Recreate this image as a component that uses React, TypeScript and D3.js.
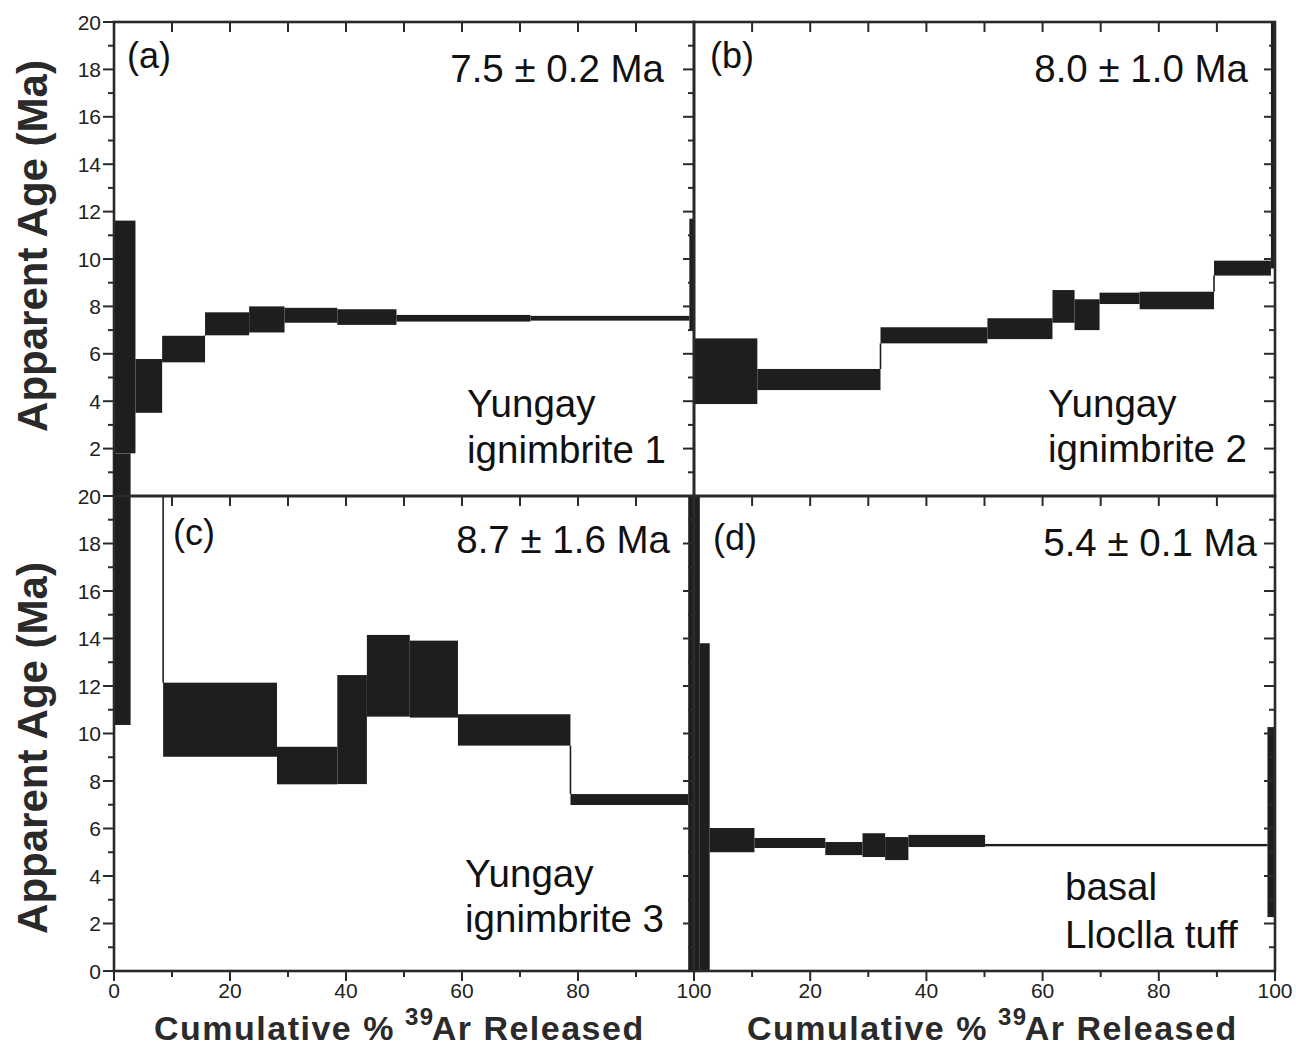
import React from 'react';
import * as d3 from 'd3';

// ---------- data ----------
const ageTickValues = d3.range(0, 21, 1);
const cumTickValues = d3.range(0, 101, 10);
const ageLabelsTop = [2, 4, 6, 8, 10, 12, 14, 16, 18, 20];
const ageLabelsBottom = [0, 2, 4, 6, 8, 10, 12, 14, 16, 18, 20];
const cumLabelsLeft = [0, 20, 40, 60, 80, 100];
const cumLabelsRight = [20, 40, 60, 80, 100];

// (a) Yungay ignimbrite 1
const cumA = [0, 3.7, 8.3, 15.7, 23.3, 29.4, 38.5, 48.7, 71.8, 99.2, 100];
const loA = [1.8, 3.51, 5.64, 6.78, 6.9, 7.31, 7.22, 7.36, 7.4, 7.0];
const hiA = [11.62, 5.78, 6.76, 7.75, 8.0, 7.94, 7.88, 7.64, 7.6, 11.7];

// (b) Yungay ignimbrite 2
const cumB = [0, 10.9, 32.1, 50.5, 61.7, 65.5, 69.8, 76.7, 89.5, 99.3, 100];
const loB = [3.88, 4.47, 6.44, 6.62, 7.31, 7.0, 8.1, 7.88, 9.3, 9.6];
const hiB = [6.65, 5.36, 7.12, 7.5, 8.69, 8.3, 8.58, 8.62, 9.93, 25];

// (c) Yungay ignimbrite 3
const cumC = [0, 2.86, 8.47, 28.1, 38.5, 43.6, 51.0, 59.3, 78.7, 99.0, 100];
const loC = [10.36, 25, 9.02, 7.86, 7.87, 10.71, 10.67, 9.49, 6.99, -2];
const hiC = [21.8, 30, 12.14, 9.44, 12.46, 14.15, 13.91, 10.81, 7.45, 20];

// (d) basal Lloclla tuff
const cumD = [0, 1.0, 2.7, 10.4, 22.6, 29.0, 32.9, 36.9, 50.1, 98.7, 100];
const loD = [-2, -2, 5.0, 5.18, 4.88, 4.8, 4.67, 5.22, 5.25, 2.27];
const hiD = [20, 13.8, 6.02, 5.6, 5.43, 5.8, 5.64, 5.73, 5.35, 10.27];

const panelTags = ['(a)', '(b)', '(c)', '(d)'];
const plateauAges = ['7.5 ± 0.2 Ma', '8.0 ± 1.0 Ma', '8.7 ± 1.6 Ma', '5.4 ± 0.1 Ma'];
const sampleLine1 = ['Yungay', 'Yungay', 'Yungay', 'basal'];
const sampleLine2 = ['ignimbrite 1', 'ignimbrite 2', 'ignimbrite 3', 'Lloclla tuff'];

// ---------- layout ----------
const FONT = "'Liberation Sans', Arial, Helvetica, sans-serif";
const INK = '#1e1e1e';
const AXIS = '#2a2a2a';

const layouts = [
  { x0: 114, x1: 694, y0: 22, y1: 496, boxTop: 20, left: true, bottom: false, yLabels: ageLabelsTop, xLabels: [] as number[],
    tag: [13, 46], age: [-30, 60], name: [353, 395, 441] },
  { x0: 694, x1: 1275, y0: 22, y1: 496, boxTop: 20, left: false, bottom: false, yLabels: [] as number[], xLabels: [] as number[],
    tag: [16, 46], age: [-27, 60], name: [354, 395, 440] },
  { x0: 114, x1: 694, y0: 496, y1: 971, boxTop: 21.8, left: true, bottom: true, yLabels: ageLabelsBottom, xLabels: cumLabelsLeft,
    tag: [59, 49], age: [-24, 57], name: [351, 391, 436] },
  { x0: 694, x1: 1275, y0: 496, y1: 971, boxTop: 20, left: false, bottom: true, yLabels: [] as number[], xLabels: cumLabelsRight,
    tag: [19, 54], age: [-18, 60], name: [371, 404, 452] },
];

const data = [
  { cum: cumA, lo: loA, hi: hiA },
  { cum: cumB, lo: loB, hi: hiB },
  { cum: cumC, lo: loC, hi: hiC },
  { cum: cumD, lo: loD, hi: hiD },
];

function Panel({ i }: { i: number }) {
  const L = layouts[i];
  const D = data[i];
  const x = d3.scaleLinear().domain([0, 100]).range([L.x0, L.x1]);
  const y = d3.scaleLinear().domain([0, 20]).range([L.y1, L.y0]);
  const boxClip = `box-clip-${i}`;
  const lineClip = `line-clip-${i}`;

  const steps = D.lo.map((lo, k) => ({ x0: D.cum[k], x1: D.cum[k + 1], lo, hi: D.hi[k] }));
  const connectors: { xv: number; a: number; b: number }[] = [];
  for (let k = 0; k < steps.length - 1; k++) {
    const s = steps[k], t = steps[k + 1];
    if (t.lo > s.hi) connectors.push({ xv: s.x1, a: s.hi, b: t.lo });
    else if (t.hi < s.lo) connectors.push({ xv: s.x1, a: s.lo, b: t.hi });
  }

  return (
    <g>
      <defs>
        <clipPath id={boxClip}>
          <rect x={L.x0} y={y(L.boxTop)} width={L.x1 - L.x0} height={L.y1 - y(L.boxTop)} />
        </clipPath>
        <clipPath id={lineClip}>
          <rect x={L.x0} y={L.y0} width={L.x1 - L.x0} height={L.y1 - L.y0} />
        </clipPath>
      </defs>
      <g clipPath={`url(#${boxClip})`}>
        {steps.map((s, k) => (
          <rect key={k} x={x(s.x0)} width={x(s.x1) - x(s.x0)} y={y(s.hi)} height={y(s.lo) - y(s.hi)} fill={INK} />
        ))}
      </g>
      <g clipPath={`url(#${lineClip})`}>
        {connectors.map((c, k) => (
          <line key={k} x1={x(c.xv)} x2={x(c.xv)} y1={y(c.a)} y2={y(c.b)} stroke={INK} strokeWidth={1.6} />
        ))}
      </g>

      {/* top ticks (inward) */}
      {cumTickValues.map((v) => (
        <line key={'t' + v} x1={x(v)} x2={x(v)} y1={L.y0} y2={L.y0 + 10} stroke={AXIS} strokeWidth={2} />
      ))}
      {/* right ticks (inward) */}
      {ageTickValues.map((v) => (
        <line key={'r' + v} x1={L.x1} x2={L.x1 - (v % 2 === 0 ? 11 : 6)} y1={y(v)} y2={y(v)} stroke={AXIS} strokeWidth={2} />
      ))}
      {/* left ticks (outward) */}
      {L.left && ageTickValues.map((v) => (
        <line key={'l' + v} x1={L.x0} x2={L.x0 - (v % 2 === 0 ? 11 : 6)} y1={y(v)} y2={y(v)} stroke={AXIS} strokeWidth={2} />
      ))}
      {L.yLabels.map((v) => (
        <text key={'yl' + v} x={L.x0 - 13} y={y(v) + 7.5} textAnchor="end" fontSize={21} fill="#222" fontFamily={FONT}>{v}</text>
      ))}
      {/* bottom ticks (outward) */}
      {L.bottom && cumTickValues.map((v) => (
        <line key={'b' + v} x1={x(v)} x2={x(v)} y1={L.y1} y2={L.y1 + (v % 20 === 0 ? 10 : 6)} stroke={AXIS} strokeWidth={2} />
      ))}
      {L.xLabels.map((v) => (
        <text key={'xl' + v} x={x(v)} y={L.y1 + 27} textAnchor="middle" fontSize={21} fill="#222" fontFamily={FONT}>{v}</text>
      ))}

      {/* frame */}
      <rect x={L.x0} y={L.y0} width={L.x1 - L.x0} height={L.y1 - L.y0} fill="none" stroke={AXIS} strokeWidth={2.6} />

      {/* annotations */}
      <text x={L.x0 + L.tag[0]} y={L.y0 + L.tag[1]} fontSize={36} fill="#111" fontFamily={FONT}>{panelTags[i]}</text>
      <text x={L.x1 + L.age[0]} y={L.y0 + L.age[1]} fontSize={38.5} textAnchor="end" fill="#111" fontFamily={FONT}>{plateauAges[i]}</text>
      <text x={L.x0 + L.name[0]} y={L.y0 + L.name[1]} fontSize={38.5} fill="#111" fontFamily={FONT}>{sampleLine1[i]}</text>
      <text x={L.x0 + L.name[0]} y={L.y0 + L.name[2]} fontSize={38.5} fill="#111" fontFamily={FONT}>{sampleLine2[i]}</text>
    </g>
  );
}

function YTitle({ cx, cy }: { cx: number; cy: number }) {
  return (
    <text transform={`translate(${cx},${cy}) rotate(-90)`} textAnchor="middle" fontSize={42} fontWeight="bold" fill="#2a2a2a" fontFamily={FONT}>
      Apparent Age (Ma)
    </text>
  );
}

function XTitle({ cx, by }: { cx: number; by: number }) {
  return (
    <text x={cx - 246} y={by} fontSize={34} fontWeight="bold" fill="#2a2a2a" fontFamily={FONT} letterSpacing={1.5}>
      <tspan>Cumulative %</tspan>
      <tspan dx={10} dy={-15} fontSize={24}>39</tspan>
      <tspan dx={-3} dy={15}>Ar Released</tspan>
    </text>
  );
}

export default function App() {
  return (
    <svg width={1296} height={1048} style={{ position: 'absolute', left: 0, top: 0, background: '#fff' }}>
      <rect x={0} y={0} width={1296} height={1048} fill="#fff" />
      {[0, 1, 2, 3].map((i) => <Panel key={i} i={i} />)}
      <YTitle cx={47} cy={246} />
      <YTitle cx={47} cy={748} />
      <XTitle cx={400} by={1040} />
      <XTitle cx={993} by={1040} />
    </svg>
  );
}
